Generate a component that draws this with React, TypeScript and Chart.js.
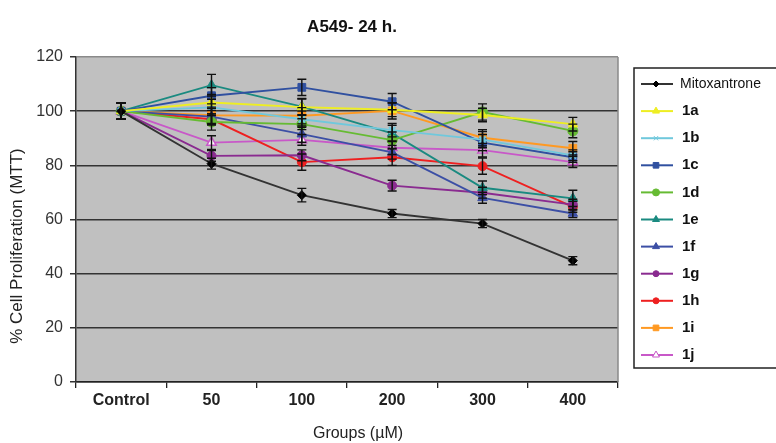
import React, { useEffect, useRef } from 'react';
import { Chart, registerables } from 'chart.js';
import { drawPoint } from 'chart.js/helpers';

Chart.register(...registerables);

const categories = ['Control', '50', '100', '200', '300', '400'];
const yTicks = [0, 20, 40, 60, 80, 100, 120];

const seriesNames = ['Mitoxantrone', '1a', '1b', '1c', '1d', '1e', '1f', '1g', '1h', '1i', '1j'];

const mitoxantrone = [100, 80.6, 69, 62.2, 58.5, 44.8];
const s1a = [100, 103.2, 101.5, 100.5, 98.6, 95.2];
const s1b = [100, 101.4, 97, 93, 89.5, 83.7];
const s1c = [100, 105.7, 108.8, 103.5, 88.4, 83];
const s1d = [100, 96, 95.2, 89.3, 99.7, 92.7];
const s1e = [100, 109.6, 101.7, 91.8, 71.7, 67.8];
const s1f = [100, 98, 91.5, 84.8, 68, 62.2];
const s1g = [100, 83.5, 83.7, 72.5, 69.9, 65.5];
const s1h = [100, 97, 81.2, 83, 79.7, 64.7];
const s1i = [100, 98.5, 98.3, 100.1, 90.2, 86.3];
const s1j = [100, 88.4, 89.4, 86.5, 85.6, 81.2];

const errMito = [3, 2, 2.5, 1.5, 1.5, 1.5];
const err1a = [3, 3, 3, 2.5, 2.5, 2.5];
const err1b = [3, 3, 3, 2.5, 3, 2];
const err1c = [3, 3, 3, 3, 3, 2];
const err1d = [3, 3, 2, 3, 3, 2.5];
const err1e = [3, 4, 3, 3, 2.5, 3];
const err1f = [3, 3, 3, 2.5, 2, 1.5];
const err1g = [3, 2, 2, 2, 2, 2];
const err1h = [3, 2, 3, 3, 3, 2];
const err1i = [3, 3, 3, 3, 3, 2.5];
const err1j = [3, 2.5, 2, 2.5, 2.5, 2];

const seriesValues = [mitoxantrone, s1a, s1b, s1c, s1d, s1e, s1f, s1g, s1h, s1i, s1j];
const seriesErrors = [errMito, err1a, err1b, err1c, err1d, err1e, err1f, err1g, err1h, err1i, err1j];

const lineColors = ['#333333', '#eeee22', '#70c8dc', '#3050a0', '#66bb33', '#1a8a80', '#3c4fa5', '#8a2b90', '#ee2020', '#ff9922', '#c858c8'];
const markerFill = ['#000000', '#eeee22', '#70c8dc', '#3050a0', '#66bb33', '#1a8a80', '#3c4fa5', '#8a2b90', '#ee2020', '#ff9922', '#ffffff'];
const markerStyles = ['rectRot', 'triangle', 'crossRot', 'rect', 'circle', 'triangle', 'triangle', 'circle', 'circle', 'rect', 'triangle'];
const markerRadius = [4.5, 5.5, 4.5, 5.5, 5, 5.5, 5.5, 4.5, 4.5, 5.5, 5.5];

const FONT = 'Liberation Sans, Arial, sans-serif';

const bgPlugin = {
  id: 'bgPlugin',
  beforeDraw(chart: any) {
    const { ctx, chartArea: a } = chart;
    ctx.save();
    ctx.fillStyle = '#ffffff';
    ctx.fillRect(0, 0, chart.width, chart.height);
    ctx.fillStyle = '#c0c0c0';
    ctx.fillRect(a.left, a.top, a.right - a.left, a.bottom - a.top);
    ctx.restore();
  },
  beforeDatasetsDraw(chart: any) {
    const { ctx, chartArea: a } = chart;
    ctx.save();
    ctx.strokeStyle = '#8a8a8a';
    ctx.lineWidth = 1.5;
    ctx.beginPath();
    ctx.moveTo(a.right, a.top);
    ctx.lineTo(a.right, a.bottom);
    ctx.stroke();
    ctx.restore();
  },
};

const errorBarPlugin = {
  id: 'errorBarPlugin',
  afterDatasetsDraw(chart: any) {
    const { ctx } = chart;
    const ys = chart.scales.y;
    ctx.save();
    ctx.strokeStyle = '#111111';
    ctx.lineWidth = 1.4;
    chart.data.datasets.forEach((ds: any, di: number) => {
      const meta = chart.getDatasetMeta(di);
      const errs = seriesErrors[di];
      meta.data.forEach((pt: any, i: number) => {
        const v = ds.data[i];
        const e = errs[i];
        const yTop = ys.getPixelForValue(v + e);
        const yBot = ys.getPixelForValue(v - e);
        const x = pt.x;
        ctx.beginPath();
        ctx.moveTo(x, yTop);
        ctx.lineTo(x, yBot);
        ctx.moveTo(x - 4.5, yTop);
        ctx.lineTo(x + 4.5, yTop);
        ctx.moveTo(x - 4.5, yBot);
        ctx.lineTo(x + 4.5, yBot);
        ctx.stroke();
      });
    });
    ctx.restore();
  },
};

const textLegendPlugin = {
  id: 'textLegendPlugin',
  afterDraw(chart: any) {
    const { ctx } = chart;
    ctx.save();
    ctx.fillStyle = '#111111';
    ctx.textAlign = 'center';
    ctx.textBaseline = 'middle';
    ctx.font = `bold 17px ${FONT}`;
    ctx.fillText('A549- 24 h.', 352, 27);
    ctx.font = `16px ${FONT}`;
    ctx.fillStyle = '#222222';
    ctx.fillText('Groups (µM)', 358, 434);
    ctx.save();
    ctx.translate(17, 246);
    ctx.rotate(-Math.PI / 2);
    ctx.font = `17px ${FONT}`;
    ctx.fillText('% Cell Proliferation (MTT)', 0, 0);
    ctx.restore();

    const lx = 634;
    const ly = 68;
    ctx.fillStyle = '#ffffff';
    ctx.fillRect(lx, ly, 200, 300);
    ctx.strokeStyle = '#222222';
    ctx.lineWidth = 1.5;
    ctx.strokeRect(lx, ly, 200, 300);
    chart.data.datasets.forEach((ds: any, di: number) => {
      const y = 84 + di * 27.1;
      ctx.strokeStyle = ds.borderColor;
      ctx.lineWidth = 2;
      ctx.beginPath();
      ctx.moveTo(641, y);
      ctx.lineTo(673, y);
      ctx.stroke();
      ctx.fillStyle = ds.pointBackgroundColor;
      ctx.strokeStyle = ds.pointBorderColor;
      ctx.lineWidth = 1;
      drawPoint(ctx, { pointStyle: ds.pointStyle, radius: Math.max(3, ds.pointRadius - 1.5), rotation: 0, borderWidth: 1 } as any, 656, y);
      ctx.fillStyle = '#111111';
      ctx.textAlign = 'left';
      ctx.textBaseline = 'middle';
      if (di === 0) {
        ctx.font = `14px ${FONT}`;
        ctx.fillText(ds.label, 680, y);
      } else {
        ctx.font = `bold 15px ${FONT}`;
        ctx.fillText(ds.label, 682, y);
      }
    });
    ctx.restore();
  },
};

export default function App() {
  const canvasRef = useRef<HTMLCanvasElement | null>(null);

  useEffect(() => {
    document.body.style.margin = '0';
    if (!canvasRef.current) return;
    const datasets = seriesNames.map((name, i) => ({
      label: name,
      data: seriesValues[i],
      borderColor: lineColors[i],
      backgroundColor: lineColors[i],
      borderWidth: 1.9,
      pointStyle: markerStyles[i],
      pointRadius: markerRadius[i],
      pointBackgroundColor: markerFill[i],
      pointBorderColor: i === 10 ? '#c858c8' : markerFill[i],
      pointBorderWidth: i === 2 ? 2 : i === 10 ? 1.5 : 1,
      tension: 0,
      fill: false,
    }));

    const chart = new Chart(canvasRef.current, {
      type: 'line',
      data: { labels: categories, datasets },
      plugins: [bgPlugin, errorBarPlugin, textLegendPlugin],
      options: {
        animation: false,
        responsive: false,
        devicePixelRatio: 1,
        layout: { padding: { top: 57, right: 158, left: 0, bottom: 0 } },
        plugins: {
          legend: { display: false },
          title: { display: false },
          tooltip: { enabled: false },
        },
        scales: {
          x: {
            type: 'category',
            offset: true,
            grid: {
              offset: true,
              drawOnChartArea: false,
              drawTicks: true,
              tickLength: 6,
              color: '#222222',
              lineWidth: 1.3,
            },
            border: { display: true, color: '#222222', width: 1.5 },
            ticks: {
              font: { family: FONT, size: 16, weight: 'bold' },
              color: '#222222',
              padding: 3,
              maxRotation: 0,
              autoSkip: false,
            },
            afterFit: (scale: any) => {
              scale.height = 61;
            },
          },
          y: {
            min: 0,
            max: 120,
            afterBuildTicks: (scale: any) => {
              scale.ticks = yTicks.map((v) => ({ value: v }));
            },
            grid: {
              color: (c: any) => (c.tick && c.tick.value === 120 ? '#8a8a8a' : '#333333'),
              lineWidth: 1.5,
              tickLength: 6,
              tickColor: '#333333',
            },
            border: { display: true, color: '#333333', width: 1.5 },
            ticks: {
              font: { family: FONT, size: 16 },
              color: '#333333',
              padding: 7,
            },
            afterFit: (scale: any) => {
              scale.width = 76;
            },
          },
        },
      } as any,
    });
    return () => chart.destroy();
  }, []);

  return (
    <div style={{ width: 776, height: 443, position: 'relative' }}>
      <canvas ref={canvasRef} width={776} height={443} style={{ display: 'block' }} />
    </div>
  );
}
